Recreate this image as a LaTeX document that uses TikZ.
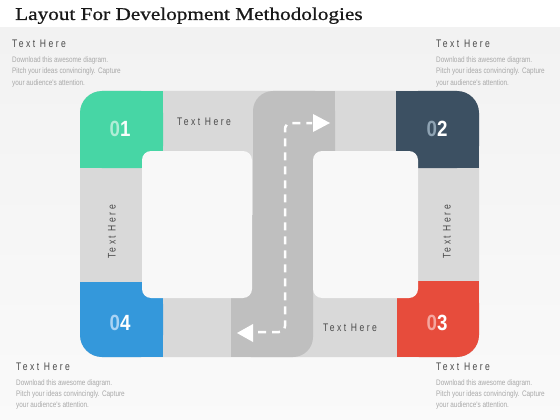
\documentclass[tikz,border=0pt]{standalone}
\usepackage{fontspec}
\setmainfont{Liberation Serif}
\newfontfamily\titlefont[FakeStretch=1.18,FakeBold=0.8]{Liberation Serif}
\newfontfamily\headfont[FakeStretch=0.78,LetterSpace=22]{Liberation Sans}
\newfontfamily\descfont[FakeStretch=0.8]{Liberation Sans}
\newfontfamily\numfont[FakeStretch=0.85]{Liberation Sans Bold}
\definecolor{bgc}{HTML}{F2F2F2}
\definecolor{bandc}{HTML}{D9D9D9}
\definecolor{roadc}{HTML}{BFBFBF}
\definecolor{boxc}{HTML}{F8F8F8}
\definecolor{greenc}{HTML}{47D6A5}
\definecolor{slatec}{HTML}{3C5062}
\definecolor{redc}{HTML}{E74C3C}
\definecolor{bluec}{HTML}{3498DB}
\definecolor{headc}{HTML}{4A4A4A}
\definecolor{descc}{HTML}{A8A8A8}
\definecolor{greent}{HTML}{B0EDD6}
\definecolor{slatet}{HTML}{8EA3B3}
\definecolor{redt}{HTML}{F5A69E}
\definecolor{bluet}{HTML}{A9D3F4}
\newcommand{\infoblock}[4]{%
  \node[headtext,anchor=base west] (#1h) at (#2,#3) {Text Here};
  \node[desctext,anchor=base west] (#1a) at (#2,#4) {Download this awesome diagram.};
  \node[desctext,anchor=base west] (#1b) at (#2,#4+11) {Pitch your ideas convincingly. Capture};
  \node[desctext,anchor=base west] (#1c) at (#2,#4+22) {your audience's attention.};
}
\begin{document}
\begin{tikzpicture}[x=1pt,y=-1pt,
  headtext/.style={inner sep=0pt,text=headc,font=\headfont\fontsize{11}{13}\selectfont},
  desctext/.style={inner sep=0pt,text=descc,font=\descfont\fontsize{8}{10}\selectfont},
  bandtext/.style={inner sep=0pt,text=headc,font=\headfont\fontsize{11}{13}\selectfont},
  numtext/.style={inner sep=0pt,font=\numfont\fontsize{22}{24}\selectfont},
  roaddash/.style={white,line width=2.5pt,dash pattern=on 8pt off 6pt,rounded corners=6pt},
]
\useasboundingbox (0,0) rectangle (560,420);
\fill[white] (0,0) rectangle (560,420);
\shade[top color=bgc,bottom color=bgc!40!white] (0,28) rectangle (560,420);
% title
\node[anchor=base west,inner sep=0pt,font=\titlefont\fontsize{18}{20}\selectfont,text=black!90] (title) at (15,20) {Layout For Development Methodologies};
% frame
\fill[bandc,rounded corners=22pt] (80,91) rectangle (479,357);
% road top part
\fill[roadc,rounded corners=20pt] (253,91) rectangle (335,230);
\fill[roadc] (280,91) rectangle (335,230);
\fill[roadc] (253,120) rectangle (335,230);
% road bottom part
\fill[roadc,rounded corners=20pt] (231,215) rectangle (313,357);
\fill[roadc] (231,215) rectangle (285,357);
\fill[roadc] (231,215) rectangle (313,330);
% corner blocks
\fill[greenc,rounded corners=22pt] (80,91) rectangle (163,168);
\fill[greenc] (110,91) rectangle (163,168);
\fill[greenc] (80,120) rectangle (163,168);
\fill[slatec,rounded corners=22pt] (396,91) rectangle (479,168);
\fill[slatec] (396,91) rectangle (450,168);
\fill[slatec] (396,120) rectangle (479,168);
\fill[redc,rounded corners=22pt] (397,281) rectangle (479,357);
\fill[redc] (397,281) rectangle (450,357);
\fill[redc] (397,281) rectangle (479,330);
\fill[bluec,rounded corners=22pt] (80,282) rectangle (163,357);
\fill[bluec] (110,282) rectangle (163,357);
\fill[bluec] (80,282) rectangle (163,330);
% white boxes
\fill[boxc,rounded corners=9pt] (142,151) rectangle (252,298);
\fill[boxc,rounded corners=9pt] (313,151) rectangle (418,298);
% road marking
\coordinate (ps) at (258,332);
\coordinate (pc1) at (285,332);
\coordinate (pc2) at (285,123);
\coordinate (pe) at (312,123);
\draw[roaddash] (ps) -- (pc1) -- (pc2) -- (pe);
\fill[white] (313,114) -- (330,123) -- (313,132) -- cycle;
\fill[white] (253,324) -- (237,333) -- (253,342) -- cycle;
% numbers
\node[numtext] (n1) at (120,129) {\textcolor{greent}{0}\textcolor{white!90!greent}{1}};
\node[numtext] (n2) at (437,129) {\textcolor{slatet}{0}\textcolor{white}{2}};
\node[numtext] (n3) at (437,323) {\textcolor{redt}{0}\textcolor{white}{3}};
\node[numtext] (n4) at (120,323) {\textcolor{bluet}{0}\textcolor{white}{4}};
% band labels
\node[bandtext] (bt) at (204,122) {Text Here};
\node[bandtext] (bb) at (350,328) {Text Here};
\node[bandtext,rotate=90] (bl) at (112,232) {Text Here};
\node[bandtext,rotate=90] (br) at (447,232) {Text Here};
% info blocks
\infoblock{tl}{12}{48}{63}
\infoblock{tr}{436}{48}{63}
\infoblock{bl}{16}{370}{385}
\infoblock{br}{436}{370}{385}
\end{tikzpicture}
\end{document}
